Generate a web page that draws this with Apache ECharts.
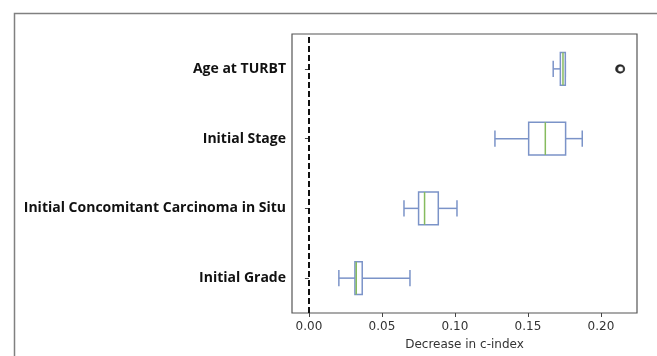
<!DOCTYPE html>
<html>
<head>
<meta charset="utf-8">
<script src="https://cdn.jsdelivr.net/npm/echarts@6/dist/echarts.min.js"></script>
<style>html,body{margin:0;padding:0;background:#fff;}#c{width:657px;height:356px;}</style>
</head>
<body>
<div id="c"></div>
<script>
// categories bottom -> top
const categories = ['Initial Grade', 'Initial Concomitant Carcinoma in Situ', 'Initial Stage', 'Age at TURBT'];
// [whiskerLow, Q1, median, Q3, whiskerHigh]
const gradeBox = [0.0205, 0.0315, 0.0324, 0.0365, 0.0692];
const cisBox = [0.0651, 0.0751, 0.0792, 0.0886, 0.1014];
const stageBox = [0.1274, 0.1505, 0.1619, 0.1758, 0.1872];
const ageBox = [0.1673, 0.1722, 0.1740, 0.1756, 0.1756];
const boxValues = [gradeBox, cisBox, stageBox, ageBox];
// outliers: [value, category]
const outliers = [[0.2128, 'Age at TURBT'], [0.2135, 'Age at TURBT']];
const xTicks = [0, 0.05, 0.10, 0.15, 0.20];

const chart = echarts.init(document.getElementById('c'));
const boxData = boxValues.map((b, i) => [i].concat(b));
const BLUE = '#7b93c8', GREEN = '#86bb5e';

chart.setOption({
  animation: false,
  graphic: [{
    type: 'rect', left: 12, top: 11, shape: {x: 0, y: 0, width: 720, height: 420},
    style: {fill: 'none', stroke: '#808080', lineWidth: 1.5}, silent: true, z: 0
  }],
  grid: {left: 292, top: 34, right: 20, bottom: 43, show: true, borderColor: '#555', borderWidth: 1.2, backgroundColor: 'transparent'},
  xAxis: {
    type: 'value', min: -0.0116, max: 0.2247,
    name: 'Decrease in c-index', nameLocation: 'middle', nameGap: 26,
    nameTextStyle: {fontFamily: 'DejaVu Sans', fontSize: 12, color: '#333'},
    axisLine: {show: false},
    splitLine: {show: false},
    axisTick: {show: true, customValues: xTicks, length: 4, inside: false, lineStyle: {color: '#444'}},
    axisLabel: {customValues: xTicks, fontFamily: 'DejaVu Sans', fontSize: 12, color: '#333', margin: 8,
      formatter: v => v.toFixed(2)}
  },
  yAxis: {
    type: 'category', data: categories,
    axisLine: {show: false},
    axisTick: {show: true, alignWithLabel: true, length: 4, lineStyle: {color: '#444'}},
    axisLabel: {fontFamily: 'Open Sans', fontWeight: 'bold', fontSize: 14, color: '#111', margin: 6}
  },
  series: [{
    type: 'custom',
    data: boxData,
    encode: {y: 0, x: [1, 2, 3, 4, 5]},
    renderItem: function (params, api) {
      const c = api.value(0);
      const v = [1, 2, 3, 4, 5].map(k => api.value(k));
      const p = v.map(x => api.coord([x, c]));
      const band = api.size([0, 1])[1];
      const bh = band * 0.47, ch = bh / 2;
      const yc = p[0][1];
      const ls = {stroke: BLUE, lineWidth: 1.5, fill: 'none'};
      const line = (x1, y1, x2, y2, st) => ({type: 'line', shape: {x1, y1, x2, y2}, style: st});
      return {type: 'group', children: [
        line(p[0][0], yc, p[1][0], yc, ls),
        line(p[3][0], yc, p[4][0], yc, ls),
        line(p[0][0], yc - ch / 2, p[0][0], yc + ch / 2, ls),
        line(p[4][0], yc - ch / 2, p[4][0], yc + ch / 2, ls),
        {type: 'rect', shape: {x: p[1][0], y: yc - bh / 2, width: p[3][0] - p[1][0], height: bh}, style: {stroke: BLUE, lineWidth: 1.5, fill: '#fff'}},
        line(p[2][0], yc - bh / 2, p[2][0], yc + bh / 2, {stroke: GREEN, lineWidth: 1.5})
      ]};
    },
    markLine: {
      silent: true, symbol: 'none', label: {show: false},
      lineStyle: {color: '#111', type: [6, 3], width: 2},
      data: [{xAxis: 0}]
    },
    z: 3
  }, {
    type: 'scatter',
    data: outliers,
    symbol: 'emptyCircle', symbolSize: 7,
    itemStyle: {color: '#111', borderColor: '#111', borderWidth: 1.4},
    z: 4
  }]
});
</script>
</body>
</html>
